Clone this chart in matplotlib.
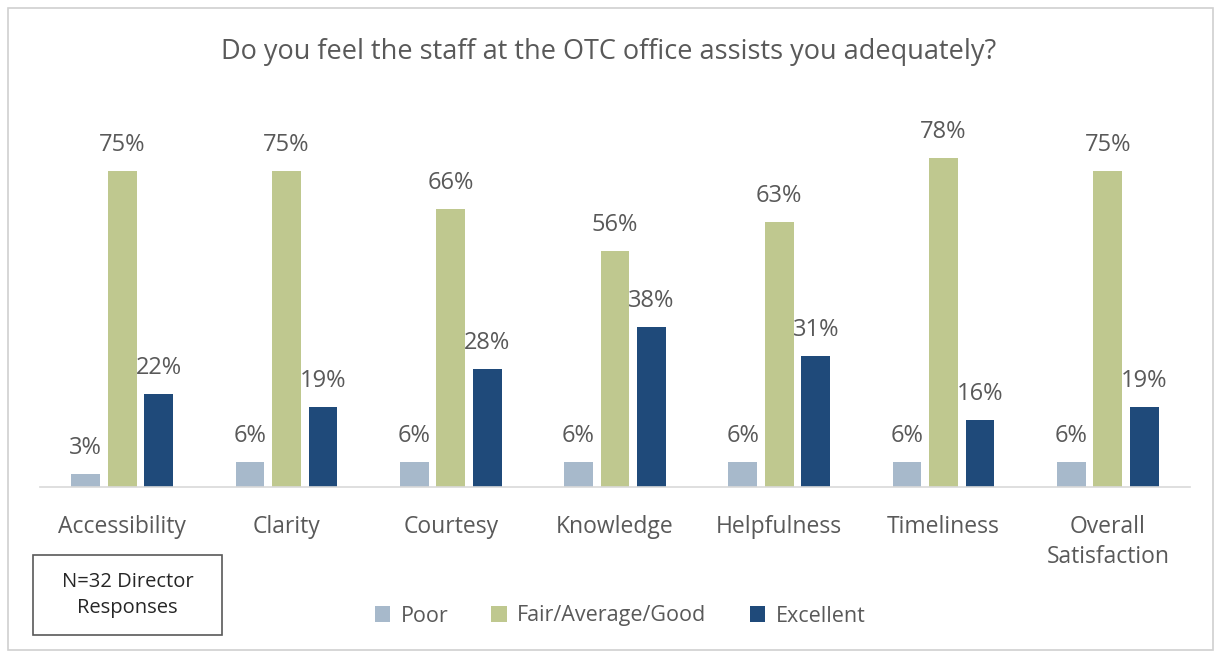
import matplotlib.pyplot as plt
from matplotlib.patches import Rectangle
import numpy as np

categories = ["Accessibility", "Clarity", "Courtesy", "Knowledge",
              "Helpfulness", "Timeliness", "Overall\nSatisfaction"]
poor = [3, 6, 6, 6, 6, 6, 6]
fair = [75, 75, 66, 56, 63, 78, 75]
excellent = [22, 19, 28, 38, 31, 16, 19]
series_names = ["Poor", "Fair/Average/Good", "Excellent"]

colors = ["#A7B9CB", "#BFC88F", "#1F4A7A"]
text_color = "#595959"
font = ["Open Sans", "DejaVu Sans"]
plt.rcParams["font.family"] = font

W, H = 1217, 658
fig = plt.figure(figsize=(W / 100, H / 100), dpi=100)
fig.patch.set_facecolor("white")

# outer chart frame
fig.add_artist(Rectangle((8 / W, 1 - 650 / H), 1205 / W, 642 / H,
                         transform=fig.transFigure, fill=False,
                         edgecolor="#D0D0D0", linewidth=1.2))

ax_left, ax_right = 40, 1190
ax_bottom, ax_top = 487, 100
ax = fig.add_axes([ax_left / W, 1 - ax_bottom / H,
                   (ax_right - ax_left) / W, (ax_bottom - ax_top) / H])
px_per_pct = (487 - 171) / 75.0
ax.set_ylim(0, (ax_bottom - ax_top) / px_per_pct)
ax.set_xlim(-0.5, len(categories) - 0.5)

x = np.arange(len(categories))
bw = 0.175
step = 0.222
for i, (vals, c, name) in enumerate(zip([poor, fair, excellent], colors, series_names)):
    pos = x + (i - 1) * step
    ax.bar(pos, vals, width=bw, color=c, label=name, zorder=2)
    for p, v in zip(pos, vals):
        ax.annotate(f"{v}%", (p, v), xytext=(0, 10), textcoords="offset points",
                    ha="center", va="bottom", fontsize=17, color=text_color)

for s in ["top", "right", "left"]:
    ax.spines[s].set_visible(False)
ax.spines["bottom"].set_color("#D9D9D9")
ax.spines["bottom"].set_linewidth(1.2)
ax.set_yticks([])
ax.set_xticks(x)
ax.set_xticklabels(categories, fontsize=16.5, color=text_color, linespacing=1.35)
ax.tick_params(axis="x", length=0, pad=20)

fig.text(0.5, 1 - 52 / H, "Do you feel the staff at the OTC office assists you adequately?",
         ha="center", va="center", fontsize=19.5, color=text_color)

# sample size note
fig.add_artist(Rectangle((33 / W, 1 - 635 / H), 189 / W, 80 / H,
                         transform=fig.transFigure, fill=False,
                         edgecolor="#595959", linewidth=1.2))
fig.text(127.5 / W, 1 - 595 / H, "N=32 Director\nResponses", ha="center", va="center",
         fontsize=14.5, color="#262626", linespacing=1.45)

leg = fig.legend(loc="center", bbox_to_anchor=(620 / W, 1 - 616 / H), ncol=3,
                 frameon=False, fontsize=15.5, handlelength=0.7, handleheight=0.7,
                 handletextpad=0.5, columnspacing=2.0)
for t in leg.get_texts():
    t.set_color(text_color)

fig.savefig("out.png", dpi=100, facecolor="white")
